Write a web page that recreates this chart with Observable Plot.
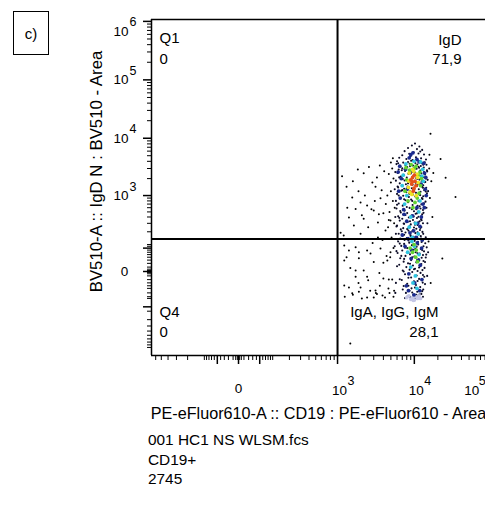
<!DOCTYPE html>
<html><head><meta charset="utf-8">
<script src="https://cdn.jsdelivr.net/npm/d3@7"></script>
<script src="https://cdn.jsdelivr.net/npm/@observablehq/plot@0.6"></script>
<style>
html,body{margin:0;padding:0;background:#fff;overflow:hidden}
#wrap{position:relative;width:485px;height:514px;font-family:"Liberation Sans",Arial,sans-serif;color:#000}
#wrap svg{position:absolute;left:0;top:0}
.box{position:absolute;left:13px;top:11px;width:34px;height:42px;border:1.5px solid #000;display:flex;align-items:center;justify-content:center;font-size:15px}
.cap{position:absolute;left:148px;top:430px;font-size:15.4px;line-height:19.5px}
</style></head><body><div id="wrap"></div>
<script>
// ---- text ----
const panelLabel = "c)";
const xTitle = "PE-eFluor610-A :: CD19 : PE-eFluor610 - Area";
const yTitle = "BV510-A :: IgD N : BV510 - Area";
const captionLines = ["001 HC1 NS WLSM.fcs", "CD19+", "2745"];
const quadNames = ["Q1", "IgD", "Q4", "IgA, IgG, IgM"];
const quadValues = ["0", "71,9", "0", "28,1"];

// ---- axes ----
const xDomain = [-686, 81000];
const yDomain = [-1394, 1077000];
const xGate = 1000;
const yGate = 138;
const xDecades = [1000, 10000, 100000];
const xDecadeExp = ["3", "4", "5"];
const yDecades = [1000, 10000, 100000, 1000000];
const yDecadeExp = ["3", "4", "5", "6"];
const xMajorTicks = [-50, 0, 50, 1000, 10000];
const xMinorTicks = [-600,-500,-400,-300,-200,-100,-90,-80,-70,-60,-40,-30,-20,-10,-5,-2,2,5,10,20,30,40,60,70,80,90,100,200,300,400,500,600,700,800,900,2000,3000,4000,5000,6000,7000,8000,9000,20000,30000,40000,50000,60000,70000,80000];
const yMajorTicks = [-160, 0, 80, 1000, 10000, 100000, 1000000];
const yMinorTicks = [-1000,-900,-800,-700,-600,-500,-400,-300,-200,-100,-90,-70,-50,-40,-30,-20,-10,-5,-2,2,5,10,20,30,40,50,60,70,90,100,200,300,400,500,600,700,800,900,2000,3000,4000,5000,6000,7000,8000,9000,20000,30000,40000,50000,60000,70000,80000,90000,200000,300000,400000,500000,600000,700000,800000,900000];

// ---- events: [x, y] ----
const coreEvents = [
[10200,8100],[9300,7500],[11600,7200],[8300,6800],[10800,6500],[12600,6300],[7500,6000],[9800,5750],[11300,5450],[13300,5250],[7000,5100],[8900,4900],[10500,4700],[12200,4500],[7900,4380],[14100,4300],[9500,4200],[6400,4600],[11900,5900],[8600,5400],
[9100,4080],[6000,4020],[11700,3960],[8300,3900],[13600,3850],[7200,3800],[10300,3740],[12500,3690],[8700,3630],[5900,3580],[10900,3530],[14300,3480],[7700,3420],[9600,3370],[12100,3320],[6600,3270],[11300,3220],[8100,3170],[13200,3120],[9900,3070],[7000,3020],[10700,2970],[12800,2920],[6300,2870],[8900,2820],[11900,2770],[7600,2720],[14600,2670],[9400,2620],[10100,2570],[6100,2520],[12300,2470],[8400,2420],[13700,2370],[7300,2320],[11100,2270],[9700,2220],[6700,2170],[12900,2120],[8000,2080],[10600,2040],[14100,2000],[7100,1960],[11600,1920],[9200,1880],[5800,1840],[12400,1800],[8700,1760],[13500,1720],[10400,1690],[6500,1650],[11800,1620],[7800,1590],[9500,1560],[13000,1530],[6900,1505],
[10800,1480],[8200,1455],[12600,1430],[6200,1400],[14200,1375],[9300,1350],[7400,1325],[11400,1300],[10000,1270],[13400,1245],[6800,1220],[8800,1195],[12000,1170],[7900,1145],[10500,1120],[14500,1095],[6000,1070],[9600,1045],[11900,1020],[7200,995],[13000,970],[8500,945],[10900,920],[6500,895],[12700,870],[9100,845],[7700,820],[11300,795],[13900,775],[8300,755],[10200,735],[6300,715],[12300,695],[9500,675],[7100,655],[11700,635],[13500,615],[8700,595],[5900,578],[10600,560],[12900,545],[7500,530],[9900,515],[11100,500],[6700,487],[8100,475],
[10400,462],[12600,450],[7700,438],[9200,426],[6200,414],[11300,403],[8500,392],[10800,381],[7000,370],[12200,360],[9600,350],[6500,340],[11700,330],[8200,320],[10100,311],[12900,302],[7400,293],[9000,285],[11000,277],[6000,269],[8700,261],[12300,253],[9900,246],[7200,239],[10600,232],[6700,225],[11800,218],[8400,212],[9400,205],[12700,199],[7700,193],[10300,187],[6300,181],[11400,175],[8900,170],[7100,165],[12100,160],[9700,155],[10900,150],[8000,145],[6600,141],[11900,137],[9300,133],[7500,130],[12800,128],
[10100,124],[6200,120],[12400,116],[8600,112],[13800,108],[7400,104],[11200,100],[9300,96],[6800,92],[10700,88],[14400,84],[8100,80],[12100,76],[9800,72],[7000,68],[13300,64],[10400,60],[6100,57],[11700,54],[8800,51],[12900,48],[7700,45],[10000,42],[14000,39],[6600,36],[11400,33],[9100,30],[13100,27],[7300,25],[10600,23],[8300,20],[12300,18],[6400,16],[9600,14],[11900,12],[7900,10],[13500,8],[10200,6],[8700,4],[12700,3],[7100,2],[11000,1],
[9400,-1],[12000,-3],[7600,-6],[10700,-9],[13400,-12],[8400,-15],[11500,-18],[6900,-21],[9900,-25],[12800,-29],[8100,-33],[10500,-37],[7300,-41],[11900,-45],[9200,-50],[13000,-55],[8700,-60],[10900,-65],[7800,-70],[12300,-75],[9700,-81],[11200,-87],[8900,-93],[10300,-99],
[6200,3700],[13000,3500],[8800,3300],[11500,3100],[6900,2800],[13300,2600],[9000,2450],[12000,2250],[6400,2100],[10900,1980],[7500,1850],[13800,1750],[8300,1650],[11000,1580],[6100,1450],[12900,1380],[9700,1300],[7000,1250],[14000,1180],[8600,1080],[11600,1050],[6300,1000],[10300,960],[12500,900],[7400,860],[9400,800],[13300,720],[6000,680],[11000,650],[8000,620],[12000,580],[9300,560],[6600,520],[13100,480],[10800,470],[7200,445],[9800,410],[6400,385],[12400,345],[8800,330],[11300,315],[7300,298],[10200,280],[5900,260],[12000,240],[8100,228],[9600,215],[6900,205],[11000,195],[13000,180],[7400,172],[9000,160],[10800,148],[6100,135],[12200,140],[8400,126],[11100,118],[6500,106],[9500,98],[13100,90],[7600,82],[10300,77],[12600,70],[5900,65],[8400,60],[11000,55],[14200,50],[6800,45],[9400,40],[12400,38],[7400,34],[10800,29],[13700,24],[8800,19],[6000,12],[11500,9],[9900,5],[7300,0],[12900,-8],[9100,-14],[6500,-19],[11000,-24],[13700,-34],[8400,-40],[10200,-47],[7100,-55],[12600,-62],[9400,-68],[11600,-79],[8200,-88],[10600,-80],[12900,-90],[7600,-98],[9700,-104],
[14500,2800],[14800,1900],[15000,1200],[14300,600],[14700,300],[14000,150],[15000,60],[14600,-10],[5700,2600],[5600,1300],[5800,800],[5700,400],[5800,180],[5600,90],[5800,-30],[5700,-70]
];
const sparseEvents = [
[1320,1430],[1860,2880],[2220,2470],[2880,1700],[3165,1430],[1570,920],[2020,750],[2460,660],[3670,890],[4500,1000],[1740,570],[3000,532],[4000,470],[1420,390],[2220,370],[3400,310],[4940,342],[1650,271],[2540,250],[4260,213],[1100,190],[2020,182],[3400,150],[1230,95],[1740,85],[2460,68],[3670,78],[4940,60],[1320,40],[1920,36],[3000,24],[4500,29],[1480,8],[2220,2],[3550,-3],[1740,-12],[2540,-22],[4000,-17],[1230,-39],[2020,-47],[3165,-59],[4650,-51],[1570,-72],[2460,-95],[3900,-83],[1210,166],[1420,68],[1920,60],[1230,29],[1740,2],[2460,-12],[1420,-47],[1920,-65],[3000,-95],[1480,-850],[4000,22],[2725,55],
[5200,3000],[5400,2000],[5000,1200],[5300,800],[4800,500],[5500,300],[5100,150],[5400,80],[4900,40],[5200,-20],[5500,-60],[4700,2400],[5300,4500],[5000,1700],[5600,600],[4600,250],[5400,-90],
[1150,2200],[1350,600],[1600,1800],[1900,1200],[2100,430],[2300,1000],[2600,3200],[2800,560],[3100,800],[3300,2100],[3500,450],[3800,1250],[4100,2700],[4300,700],[4700,350],[1250,-90],[1600,-80],[2100,-100],[2700,-60],[3300,-75],[4200,-95],[4800,-70],[3600,-40],[2900,110],[3900,130],[4400,45],[1900,-30],[3200,-70],[4700,-20],[5000,3800],[3600,3400],
[16100,12000],[25100,2070],[33600,940],[21650,4400],[22800,35],[15500,3000],[16500,1800],[15800,900],[17000,400],[15200,120],[16200,-30],[15600,5200],[17500,2500]
];
// [x, y, density level 0..5]
const densityEvents = [
[8500,-85,0],[9500,-95,0],[10500,-90,0],[11500,-85,0],[9000,-105,0],[10000,-110,0],[11000,-100,0],[8000,-95,0],[12000,-100,0],[9700,-112,0],
[6500,3300,1],[13500,2500,1],[6800,2000,1],[13800,1300,1],[6600,900,1],[12900,700,1],[7400,450,1],[12300,400,1],[8000,330,1],[11800,260,1],[9800,210,1],[7000,170,1],[12600,130,1],[8300,140,1],[10900,110,1],[7600,90,1],[12400,80,1],[9100,35,1],[11900,15,1],[8500,-5,1],[12500,-20,1],[7900,-40,1],[11700,-60,1],[9900,-80,1],[10800,4300,1],[8600,4600,1],[13200,3700,1],[6200,2600,1],[14000,2100,1],[6300,1200,1],[14200,1000,1],[7300,550,1],[13400,600,1],[9000,5200,1],[11500,3900,1],[7700,2900,1],[12200,1600,1],[8100,1300,1],[10800,600,1],[9500,420,1],[11000,300,1],[8800,190,1],[10500,150,1],[9200,70,1],[11300,30,1],[10100,-30,1],[8400,-60,1],[9600,5600,1],
[7200,2300,2],[12800,2900,2],[13000,1800,2],[7000,1500,2],[7500,700,2],[11400,500,2],[9000,400,2],[10400,300,2],[8600,250,2],[11200,180,2],[9400,150,2],[7800,3600,2],[12000,3900,2],[8200,60,2],[11500,50,2],[9000,10,2],[10300,-10,2],[9600,-30,2],[10800,-50,2],[9300,120,2],[10000,90,2],[11800,800,2],[8000,1000,2],[12500,2200,2],[9900,4000,2],
[7800,3100,3],[10500,3300,3],[11800,2600,3],[12000,1500,3],[8000,1900,3],[7600,1200,3],[8300,800,3],[10200,750,3],[11500,1100,3],[9100,3500,3],[12300,2000,3],[9600,600,3],[8700,2800,3],[10900,900,3],[9500,60,3],[10400,40,3],[8800,80,3],[11000,25,3],[9900,100,3],[10600,70,3],[10000,3000,3],[11200,2300,3],
[8600,2500,4],[10800,2400,4],[11200,1700,4],[8400,1400,4],[9300,1050,4],[10600,1000,4],[9800,2700,4],[8800,1150,4],[11000,2100,4],[9500,2900,4],[8500,1800,4],
[9500,2100,5],[10200,1800,5],[9200,1600,5],[9900,1350,5],[10500,1500,5],[9000,1900,5],[9700,1200,5],[10000,2300,5],[9400,1750,5]
];

const FONT = '"Liberation Sans", Arial, sans-serif';
const lm = {lineAnchor: "middle"};

const chart = Plot.plot({
  width: 485, height: 514,
  marginLeft: 151, marginRight: 0, marginTop: 19, marginBottom: 159,
  style: {fontFamily: FONT, fontSize: "15px", background: "transparent", color: "#000", overflow: "visible"},
  x: {type: "symlog", constant: 58, domain: xDomain},
  y: {type: "symlog", constant: 53, domain: yDomain},
  color: {type: "ordinal", domain: [0, 1, 2, 3, 4, 5], range: ["#c4c6e6", "#1a2a8e", "#2ec4e0", "#62d232", "#eee224", "#e6501a"]},
  marks: [
    Plot.dot(sparseEvents, {x: d => d[0], y: d => d[1], r: 1, fill: "#000"}),
    Plot.dot(coreEvents, {x: d => d[0], y: d => d[1], r: 1.05, fill: "#0b0b26"}),
    Plot.dot(densityEvents, {x: d => d[0], y: d => d[1], r: 1.9, fill: d => d[2]}),
    Plot.ruleX([xGate], {stroke: "#000", strokeWidth: 2}),
    Plot.ruleY([yGate], {stroke: "#000", strokeWidth: 2}),
    Plot.ruleY([yDomain[1]], {stroke: "#000", strokeWidth: 1.5}),
    Plot.ruleY([yDomain[0]], {stroke: "#000", strokeWidth: 1.5}),
    Plot.ruleX([xDomain[0]], {stroke: "#000", strokeWidth: 1.5}),
    Plot.axisY(yMinorTicks, {anchor: "left", tickSize: 4, tickFormat: () => "", label: null}),
    Plot.axisY(yMajorTicks, {anchor: "left", tickSize: 8, strokeWidth: 1.5, tickFormat: () => "", label: null}),
    Plot.axisX(xMinorTicks, {anchor: "bottom", tickSize: 5, tickFormat: () => "", label: null}),
    Plot.axisX(xMajorTicks, {anchor: "bottom", tickSize: 9, strokeWidth: 1.5, tickFormat: () => "", label: null}),
    // y decade labels
    Plot.text(yDecades.slice(0, 3), {y: d => d, frameAnchor: "left", dx: -23, textAnchor: "end", text: () => "10", fontSize: 13.5, ...lm}),
    Plot.text(yDecades.slice(0, 3), {y: d => d, frameAnchor: "left", dx: -22, dy: -9, textAnchor: "start", text: (d, i) => yDecadeExp[i], fontSize: 12.5, ...lm}),
    Plot.text(yDecades.slice(3), {y: d => d, frameAnchor: "left", dx: -23, dy: 10, textAnchor: "end", text: () => "10", fontSize: 13.5, ...lm}),
    Plot.text(yDecades.slice(3), {y: d => d, frameAnchor: "left", dx: -22, dy: 1, textAnchor: "start", text: (d, i) => yDecadeExp[3 + i], fontSize: 12.5, ...lm}),
    Plot.text([0], {y: d => d, frameAnchor: "left", dx: -27, textAnchor: "middle", text: () => "0", fontSize: 13.5, ...lm}),
    // x decade labels
    Plot.text(xDecades.slice(0, 2), {x: d => d, frameAnchor: "bottom", dx: 2, dy: 35, text: () => "10", fontSize: 13.5, ...lm}),
    Plot.text(xDecades.slice(0, 2), {x: d => d, frameAnchor: "bottom", dx: 10, dy: 25, textAnchor: "start", text: (d, i) => xDecadeExp[i], fontSize: 12.5, ...lm}),
    Plot.text(xDecades.slice(2), {x: d => d, frameAnchor: "bottom", dx: -21, dy: 35, text: () => "10", fontSize: 13.5, ...lm}),
    Plot.text(xDecades.slice(2), {x: d => d, frameAnchor: "bottom", dx: -14, dy: 25, textAnchor: "start", text: (d, i) => xDecadeExp[2 + i], fontSize: 12.5, ...lm}),
    Plot.text([0], {x: d => d, frameAnchor: "bottom", dy: 33, text: () => "0", fontSize: 13.5, ...lm}),
    // axis titles
    Plot.text([xTitle], {frameAnchor: "bottom", dy: 58, text: d => d, fontSize: 16.2, ...lm}),
    Plot.text([yTitle], {frameAnchor: "left", dx: -55, dy: -16, rotate: -90, textAnchor: "middle", text: d => d, fontSize: 16.8, ...lm}),
    // quadrant labels
    Plot.text([quadNames[0]], {frameAnchor: "top-left", dx: 8, dy: 19, textAnchor: "start", text: d => d, ...lm}),
    Plot.text([quadValues[0]], {frameAnchor: "top-left", dx: 8, dy: 40, textAnchor: "start", text: d => d, ...lm}),
    Plot.text([quadNames[1]], {frameAnchor: "top-right", dx: -24, dy: 21, textAnchor: "end", text: d => d, ...lm}),
    Plot.text([quadValues[1]], {frameAnchor: "top-right", dx: -24, dy: 40, textAnchor: "end", text: d => d, ...lm}),
    Plot.text([quadNames[2]], {frameAnchor: "bottom-left", dx: 8, dy: -43, textAnchor: "start", text: d => d, ...lm}),
    Plot.text([quadValues[2]], {frameAnchor: "bottom-left", dx: 8, dy: -23, textAnchor: "start", text: d => d, ...lm}),
    Plot.text([quadNames[3]], {frameAnchor: "bottom-right", dx: -47, dy: -43, textAnchor: "end", text: d => d, ...lm}),
    Plot.text([quadValues[3]], {frameAnchor: "bottom-right", dx: -47, dy: -23, textAnchor: "end", text: d => d, ...lm})
  ]
});

const wrap = document.getElementById("wrap");
wrap.appendChild(chart);
const box = document.createElement("div");
box.className = "box"; box.textContent = panelLabel;
wrap.appendChild(box);
const cap = document.createElement("div");
cap.className = "cap";
captionLines.forEach(t => { const l = document.createElement("div"); l.textContent = t; cap.appendChild(l); });
wrap.appendChild(cap);
</script></body></html>
